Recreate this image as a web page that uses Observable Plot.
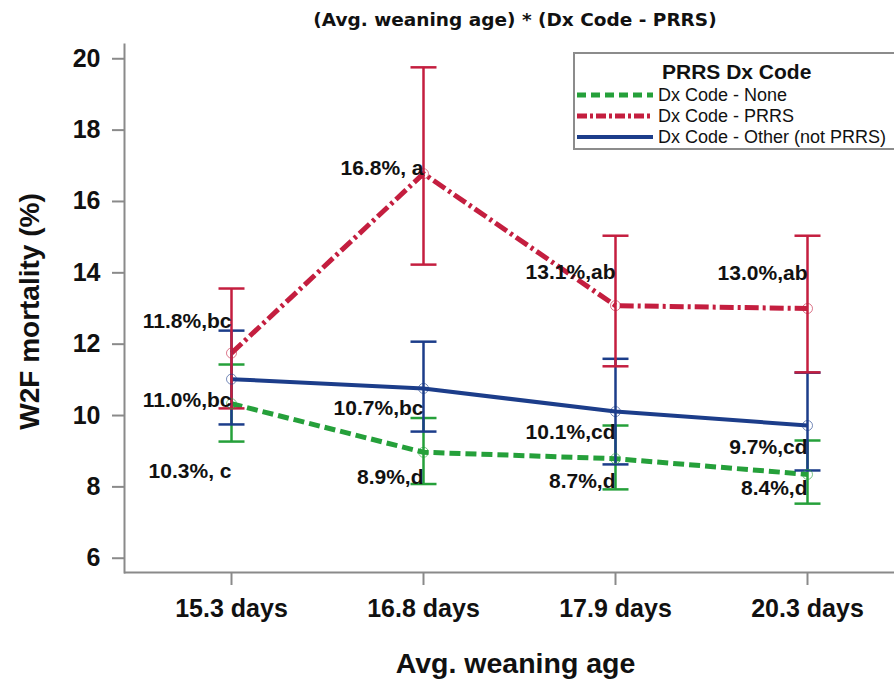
<!DOCTYPE html>
<html>
<head>
<meta charset="utf-8">
<script src="https://cdn.jsdelivr.net/npm/d3@7"></script>
<script src="https://cdn.jsdelivr.net/npm/@observablehq/plot@0.6"></script>
<style>
  body { margin: 0; background: #fff; }
  #wrap { position: relative; width: 894px; height: 680px; overflow: hidden; font-family: "Liberation Sans", Arial, sans-serif; }
  #title { height: 38px; line-height: 40px; padding-left: 136px; text-align: center; font-family: "DejaVu Sans", Verdana, sans-serif; font-weight: bold; font-size: 18.5px; color: #111; }
  #legend { position: absolute; left: 573px; top: 52px; width: 340px; height: 94px; border: 2px solid #8c8c8c; background: #fff; }
  #legend .lt { position: absolute; left: 87px; top: 6px; font-weight: bold; font-size: 21px; color: #111; }
  #legend .row { position: absolute; left: 0; height: 20px; font-size: 18px; color: #111; white-space: nowrap; }
  #legend .row svg { position: absolute; left: 2px; top: 5px; }
  #legend .row span { position: absolute; left: 83px; top: 0; line-height: 20px; }
</style>
</head>
<body>
<div id="wrap">
  <div id="title">(Avg. weaning age) * (Dx Code - PRRS)</div>
  <div id="chart"></div>
  <div id="legend"></div>
</div>
<script>
const categories = ["15.3 days", "16.8 days", "17.9 days", "20.3 days"];
const seriesNames = ["Dx Code - None", "Dx Code - PRRS", "Dx Code - Other (not PRRS)"];
const noneMean = [10.33, 8.97, 8.79, 8.35];
const noneLo = [9.27, 8.08, 7.93, 7.53];
const noneHi = [11.43, 9.93, 9.72, 9.30];
const noneLabels = ["10.3%, c", "8.9%,d", "8.7%,d", "8.4%,d"];
const prrsMean = [11.75, 16.78, 13.08, 13.0];
const prrsLo = [10.2, 14.23, 11.38, 11.21];
const prrsHi = [13.56, 19.76, 15.04, 15.04];
const prrsLabels = ["11.8%,bc", "16.8%, a", "13.1%,ab", "13.0%,ab"];
const otherMean = [11.02, 10.76, 10.11, 9.72];
const otherLo = [9.75, 9.55, 8.63, 8.46];
const otherHi = [12.38, 12.07, 11.59, 11.20];
const otherLabels = ["11.0%,bc", "10.7%,bc", "10.1%,cd", "9.7%,cd"];
const yTicks = [6, 8, 10, 12, 14, 16, 18, 20];

// styling (not data)
const colors = ["#25a03a", "#c41e3f", "#1c3d8a"];
const dashes = ["11,5", "14,4,3,4", null];
const legendDashes = ["9,5", "10,3,3,3", null];
const widths = [5, 5, 4];
const labelDy = [[68, 25, 23, 14], [-32, -5, -33, -35], [21, 20, 20.5, 21.5]];

const sets = [
  {mean: noneMean, lo: noneLo, hi: noneHi, labels: noneLabels},
  {mean: prrsMean, lo: prrsLo, hi: prrsHi, labels: prrsLabels},
  {mean: otherMean, lo: otherLo, hi: otherHi, labels: otherLabels}
];
const tables = sets.map((s, k) => categories.map((c, i) => ({
  cat: c, series: seriesNames[k], mean: s.mean[i], lo: s.lo[i], hi: s.hi[i], label: s.labels[i], dy: labelDy[k][i]
})));

const cap = {draw(ctx) { ctx.moveTo(-13, 0); ctx.lineTo(13, 0); }};

const marks = [];
marks.push(Plot.ruleY([5.6], {stroke: "#8a8a8a", strokeWidth: 2}));
marks.push(Plot.frame({anchor: "left", stroke: "#8a8a8a", strokeWidth: 2}));
marks.push(Plot.axisY({ticks: yTicks, tickSize: 12, tickPadding: 12, stroke: "#8a8a8a", strokeWidth: 2, fill: "#111", fontSize: 25, fontWeight: "bold", label: null}));
marks.push(Plot.axisX({tickSize: 13, tickPadding: 14, stroke: "#8a8a8a", strokeWidth: 2, fill: "#111", fontSize: 25, fontWeight: "bold", label: null}));
// lines
[0, 2, 1].forEach(k => {
  marks.push(Plot.line(tables[k], {x: "cat", y: "mean", stroke: colors[k], strokeWidth: widths[k], strokeDasharray: dashes[k], strokeLinecap: "butt"}));
});
// error bars
[0, 2, 1].forEach(k => {
  marks.push(Plot.ruleX(tables[k], {x: "cat", y1: "lo", y2: "hi", stroke: colors[k], strokeWidth: 2.5}));
  marks.push(Plot.dot(tables[k], {x: "cat", y: "lo", symbol: cap, fill: "none", stroke: colors[k], strokeWidth: 2.5}));
  marks.push(Plot.dot(tables[k], {x: "cat", y: "hi", symbol: cap, fill: "none", stroke: colors[k], strokeWidth: 2.5}));
});
// points
[0, 2, 1].forEach(k => {
  marks.push(Plot.dot(tables[k], {x: "cat", y: "mean", r: 5, fill: "none", stroke: colors[k], strokeWidth: 1, strokeOpacity: 0.6}));
});
// data labels
tables.forEach(t => t.forEach(d => {
  marks.push(Plot.text([d], {x: "cat", y: "mean", text: "label", dy: d.dy, textAnchor: "end", fontSize: 21, fontWeight: "bold", fill: "#111"}));
}));
// axis titles
marks.push(Plot.text(["Avg. weaning age"], {frameAnchor: "bottom", textAnchor: "middle", lineAnchor: "middle", dy: 91, dx: 6, fontSize: 28.5, fontWeight: "bold", fill: "#111"}));
marks.push(Plot.text(["W2F mortality (%)"], {frameAnchor: "left", textAnchor: "middle", lineAnchor: "middle", rotate: -90, dx: -94, dy: 3, fontSize: 28, fontWeight: "bold", fill: "#111"}));

const plot = Plot.plot({
  width: 894,
  height: 642,
  marginTop: 6,
  marginLeft: 124,
  marginRight: 0,
  marginBottom: 108,
  style: {fontFamily: "'Liberation Sans', Arial, sans-serif", background: "#fff", color: "#111"},
  x: {type: "point", domain: categories, range: [230, 808], padding: 0, axis: null},
  y: {domain: [5.6, 20.4], axis: null},
  marks
});
document.getElementById("chart").appendChild(plot);

// legend
const lg = document.getElementById("legend");
const lt = document.createElement("div");
lt.className = "lt";
lt.textContent = "PRRS Dx Code";
lg.appendChild(lt);
const rowTops = [31, 52, 73];
seriesNames.forEach((name, k) => {
  const row = document.createElement("div");
  row.className = "row";
  row.style.top = rowTops[k] + "px";
  const ns = "http://www.w3.org/2000/svg";
  const svg = document.createElementNS(ns, "svg");
  svg.setAttribute("width", 76);
  svg.setAttribute("height", 10);
  const ln = document.createElementNS(ns, "line");
  ln.setAttribute("x1", 0); ln.setAttribute("x2", 76);
  ln.setAttribute("y1", 5); ln.setAttribute("y2", 5);
  ln.setAttribute("stroke", colors[k]);
  ln.setAttribute("stroke-width", widths[k]);
  if (legendDashes[k]) ln.setAttribute("stroke-dasharray", legendDashes[k]);
  svg.appendChild(ln);
  row.appendChild(svg);
  const sp = document.createElement("span");
  sp.textContent = name;
  row.appendChild(sp);
  lg.appendChild(row);
});
</script>
</body>
</html>
